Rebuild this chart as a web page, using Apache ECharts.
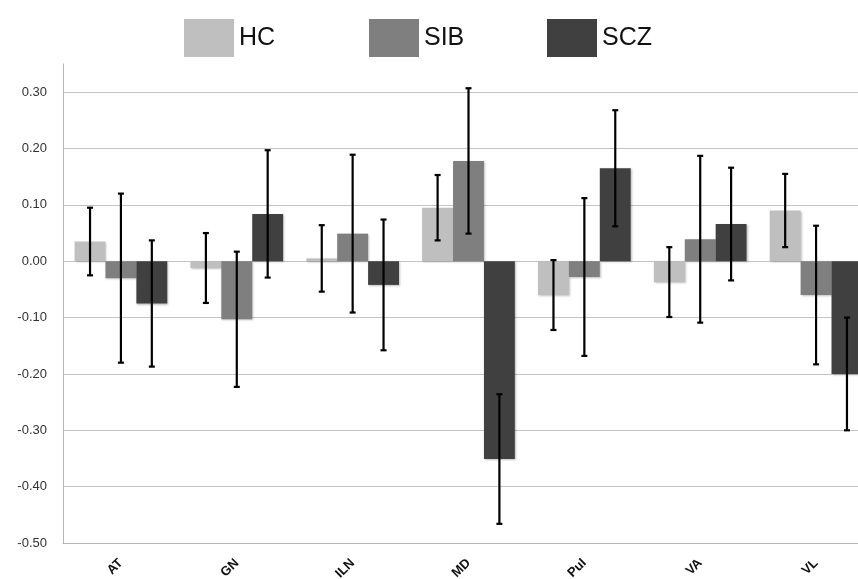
<!DOCTYPE html>
<html>
<head>
<meta charset="utf-8">
<script src="https://cdn.jsdelivr.net/npm/echarts@6/dist/echarts.min.js"></script>
<style>
  html, body { margin: 0; padding: 0; background: #fff; }
  #chart { width: 858px; height: 579px; }
</style>
</head>
<body>
<div id="chart"></div>
<script>
// regions along the x axis
var categories = ["AT", "GN", "ILN", "MD", "PuI", "VA", "VL"];
var groups = ["HC", "SIB", "SCZ"];

// bar heights (mean)
var hcValues = [0.035, -0.012, 0.005, 0.095, -0.060, -0.037, 0.090];
var sibValues = [-0.030, -0.103, 0.049, 0.178, -0.028, 0.039, -0.060];
var sczValues = [-0.075, 0.084, -0.042, -0.351, 0.165, 0.066, -0.200];

// error bar half widths
var hcErrors = [0.060, 0.062, 0.059, 0.058, 0.062, 0.062, 0.065];
var sibErrors = [0.150, 0.120, 0.140, 0.129, 0.140, 0.148, 0.123];
var sczErrors = [0.112, 0.113, 0.116, 0.115, 0.103, 0.100, 0.100];

var colors = ["#bfbfbf", "#7f7f7f", "#404040"];

var chartDom = document.getElementById("chart");
var myChart = echarts.init(chartDom);

function errorData(values, errors) {
  return values.map(function (v, i) {
    return [i, v - errors[i], v + errors[i]];
  });
}

function errorSeries(values, errors, idx) {
  return {
    type: "custom",
    name: groups[idx] + " error",
    z: 10,
    silent: true,
    renderItem: function (params, api) {
      var cat = api.value(0);
      var lo = api.coord([cat, api.value(1)]);
      var hi = api.coord([cat, api.value(2)]);
      var band = api.size([1, 0])[0];
      var barW = band * 0.8 / 3;
      var x = lo[0] + (idx - 1) * barW;
      var cap = 3;
      var style = { stroke: "#000", lineWidth: 2.2 };
      return {
        type: "group",
        children: [
          { type: "line", shape: { x1: x, y1: lo[1], x2: x, y2: hi[1] }, style: style },
          { type: "line", shape: { x1: x - cap, y1: lo[1], x2: x + cap, y2: lo[1] }, style: style },
          { type: "line", shape: { x1: x - cap, y1: hi[1], x2: x + cap, y2: hi[1] }, style: style }
        ]
      };
    },
    encode: { x: 0, y: [1, 2] },
    data: errorData(values, errors)
  };
}

function barSeries(name, values, color) {
  return {
    name: name,
    type: "bar",
    data: values,
    barGap: "0%",
    barCategoryGap: "20%",
    itemStyle: {
      color: color,
      shadowColor: "rgba(0,0,0,0.25)",
      shadowBlur: 2,
      shadowOffsetX: 1,
      shadowOffsetY: 1
    }
  };
}

function legendFor(name, left) {
  return {
    data: [name],
    left: left,
    top: 14,
    icon: "rect",
    itemWidth: 50,
    itemHeight: 38,
    textStyle: {
      fontFamily: "Liberation Sans",
      fontSize: 25,
      color: "#111"
    }
  };
}

var option = {
  animation: false,
  backgroundColor: "#fff",
  legend: [
    legendFor("HC", 179),
    legendFor("SIB", 364),
    legendFor("SCZ", 542)
  ],
  grid: {
    left: 63,
    right: -16,
    top: 64,
    bottom: 36,
    containLabel: false,
    outerBoundsMode: "none"
  },
  xAxis: {
    type: "category",
    data: categories,
    axisLine: { onZero: false, lineStyle: { color: "#b5b5b5", width: 1 } },
    axisTick: { show: false },
    axisLabel: {
      rotate: 45,
      margin: 18,
      fontFamily: "Liberation Sans",
      fontWeight: "bold",
      fontSize: 13,
      color: "#111"
    }
  },
  yAxis: {
    type: "value",
    min: -0.5,
    max: 0.35,
    interval: 0.1,
    axisLine: { show: true, lineStyle: { color: "#b5b5b5", width: 1 } },
    axisTick: { show: false },
    axisLabel: {
      showMaxLabel: false,
      margin: 16,
      fontFamily: "Liberation Sans",
      fontSize: 13,
      color: "#333",
      formatter: function (v) {
        return v.toFixed(2);
      }
    },
    splitLine: {
      showMaxLine: false,
      lineStyle: { color: "#c4c4c4", width: 1 }
    }
  },
  series: [
    barSeries("HC", hcValues, colors[0]),
    barSeries("SIB", sibValues, colors[1]),
    barSeries("SCZ", sczValues, colors[2]),
    errorSeries(hcValues, hcErrors, 0),
    errorSeries(sibValues, sibErrors, 1),
    errorSeries(sczValues, sczErrors, 2)
  ]
};

myChart.setOption(option);
</script>
</body>
</html>
